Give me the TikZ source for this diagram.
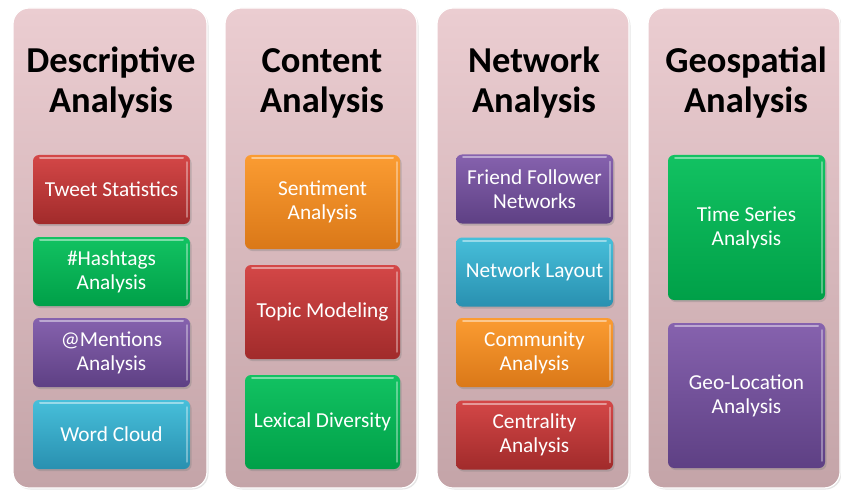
\documentclass[tikz,border=0pt]{standalone}
\usepackage{fontspec}
\setmainfont{Carlito}
\usetikzlibrary{shadows}
\definecolor{redT}{HTML}{D44747}
\definecolor{redB}{HTML}{A12B2B}
\definecolor{grnT}{HTML}{12C262}
\definecolor{grnB}{HTML}{00A048}
\definecolor{purT}{HTML}{8662AE}
\definecolor{purB}{HTML}{5E4084}
\definecolor{cyaT}{HTML}{47BFDA}
\definecolor{cyaB}{HTML}{2990B0}
\definecolor{orgT}{HTML}{FB9C32}
\definecolor{orgB}{HTML}{DA7818}
\definecolor{pnlT}{HTML}{EBCDD1}
\definecolor{pnlB}{HTML}{C4A4A8}
\begin{document}
\begin{tikzpicture}[x=1pt,y=-1pt,
  panel/.style={rounded corners=16pt, top color=pnlT, bottom color=pnlB,
    draw=white, line width=1.2pt, minimum width=192pt, minimum height=480pt,
    drop shadow={opacity=.2, shadow xshift=1.5pt, shadow yshift=-1.5pt}},
  title/.style={font=\fontsize{36.5}{40}\selectfont\bfseries, align=center, text=black},
  box/.style={rounded corners=6pt, text=white, align=center,
    font=\fontsize{21.3}{24}\selectfont, minimum width=157pt, inner sep=0pt,
    drop shadow={opacity=.35, shadow xshift=1.5pt, shadow yshift=-2pt},
    path picture={
      \draw[white, opacity=.45, line width=2pt, line cap=round]
        ([xshift=7pt,yshift=-3pt]path picture bounding box.north west) --
        ([xshift=-7pt,yshift=-3pt]path picture bounding box.north east);
      \draw[white, opacity=.35, line width=1.5pt, line cap=round]
        ([xshift=-3pt,yshift=-7pt]path picture bounding box.north east) --
        ([xshift=-3pt,yshift=7pt]path picture bounding box.south east);
    }},
  rbox/.style={box, top color=redT, bottom color=redB},
  gbox/.style={box, top color=grnT, bottom color=grnB},
  pbox/.style={box, top color=purT, bottom color=purB},
  cbox/.style={box, top color=cyaT, bottom color=cyaB},
  obox/.style={box, top color=orgT, bottom color=orgB},
  h69/.style={minimum height=69pt},
  h94/.style={minimum height=94pt},
  h145/.style={minimum height=145pt}
]
\useasboundingbox[fill=white] (0,0) rectangle (841,492);

% panels
\node[panel, minimum width=194pt] (p1) at (110,248) {};
\node[panel] (p2) at (321,248) {};
\node[panel] (p3) at (533,248) {};
\node[panel] (p4) at (744,248) {};

% titles
\node[title] (t1) at (111,83) {Descriptive\\Analysis};
\node[title] (t2) at (322,83) {Content\\Analysis};
\node[title] (t3) at (534,83) {Network\\Analysis};
\node[title] (t4) at (746,83) {Geospatial\\Analysis};

% column 1
\node[rbox, h69] (a1) at (111.5,189.5) {Tweet Statistics};
\node[gbox, h69] (a2) at (111.5,271.5) {\#Hashtags\\Analysis};
\node[pbox, h69] (a3) at (111.5,352.5) {@Mentions\\Analysis};
\node[cbox, h69] (a4) at (111.5,434.5) {Word Cloud};

% column 2
\node[obox, h94, minimum width=155pt] (b1) at (322.5,202) {Sentiment\\Analysis};
\node[rbox, h94, minimum width=155pt] (b2) at (322.5,312) {Topic Modeling};
\node[gbox, h94, minimum width=155pt] (b3) at (322.5,422) {Lexical Diversity};

% column 3
\node[pbox, h69] (c1) at (534.5,189) {Friend Follower\\Networks};
\node[cbox, h69] (c2) at (534.5,272) {Network Layout};
\node[obox, h69] (c3) at (534.5,352.5) {Community\\Analysis};
\node[rbox, h69] (c4) at (534.5,435) {Centrality\\Analysis};

% column 4
\node[gbox, h145] (d1) at (746.5,227.5) {Time Series\\Analysis};
\node[pbox, h145] (d2) at (746.5,395.5) {Geo-Location\\Analysis};
\end{tikzpicture}
\end{document}
